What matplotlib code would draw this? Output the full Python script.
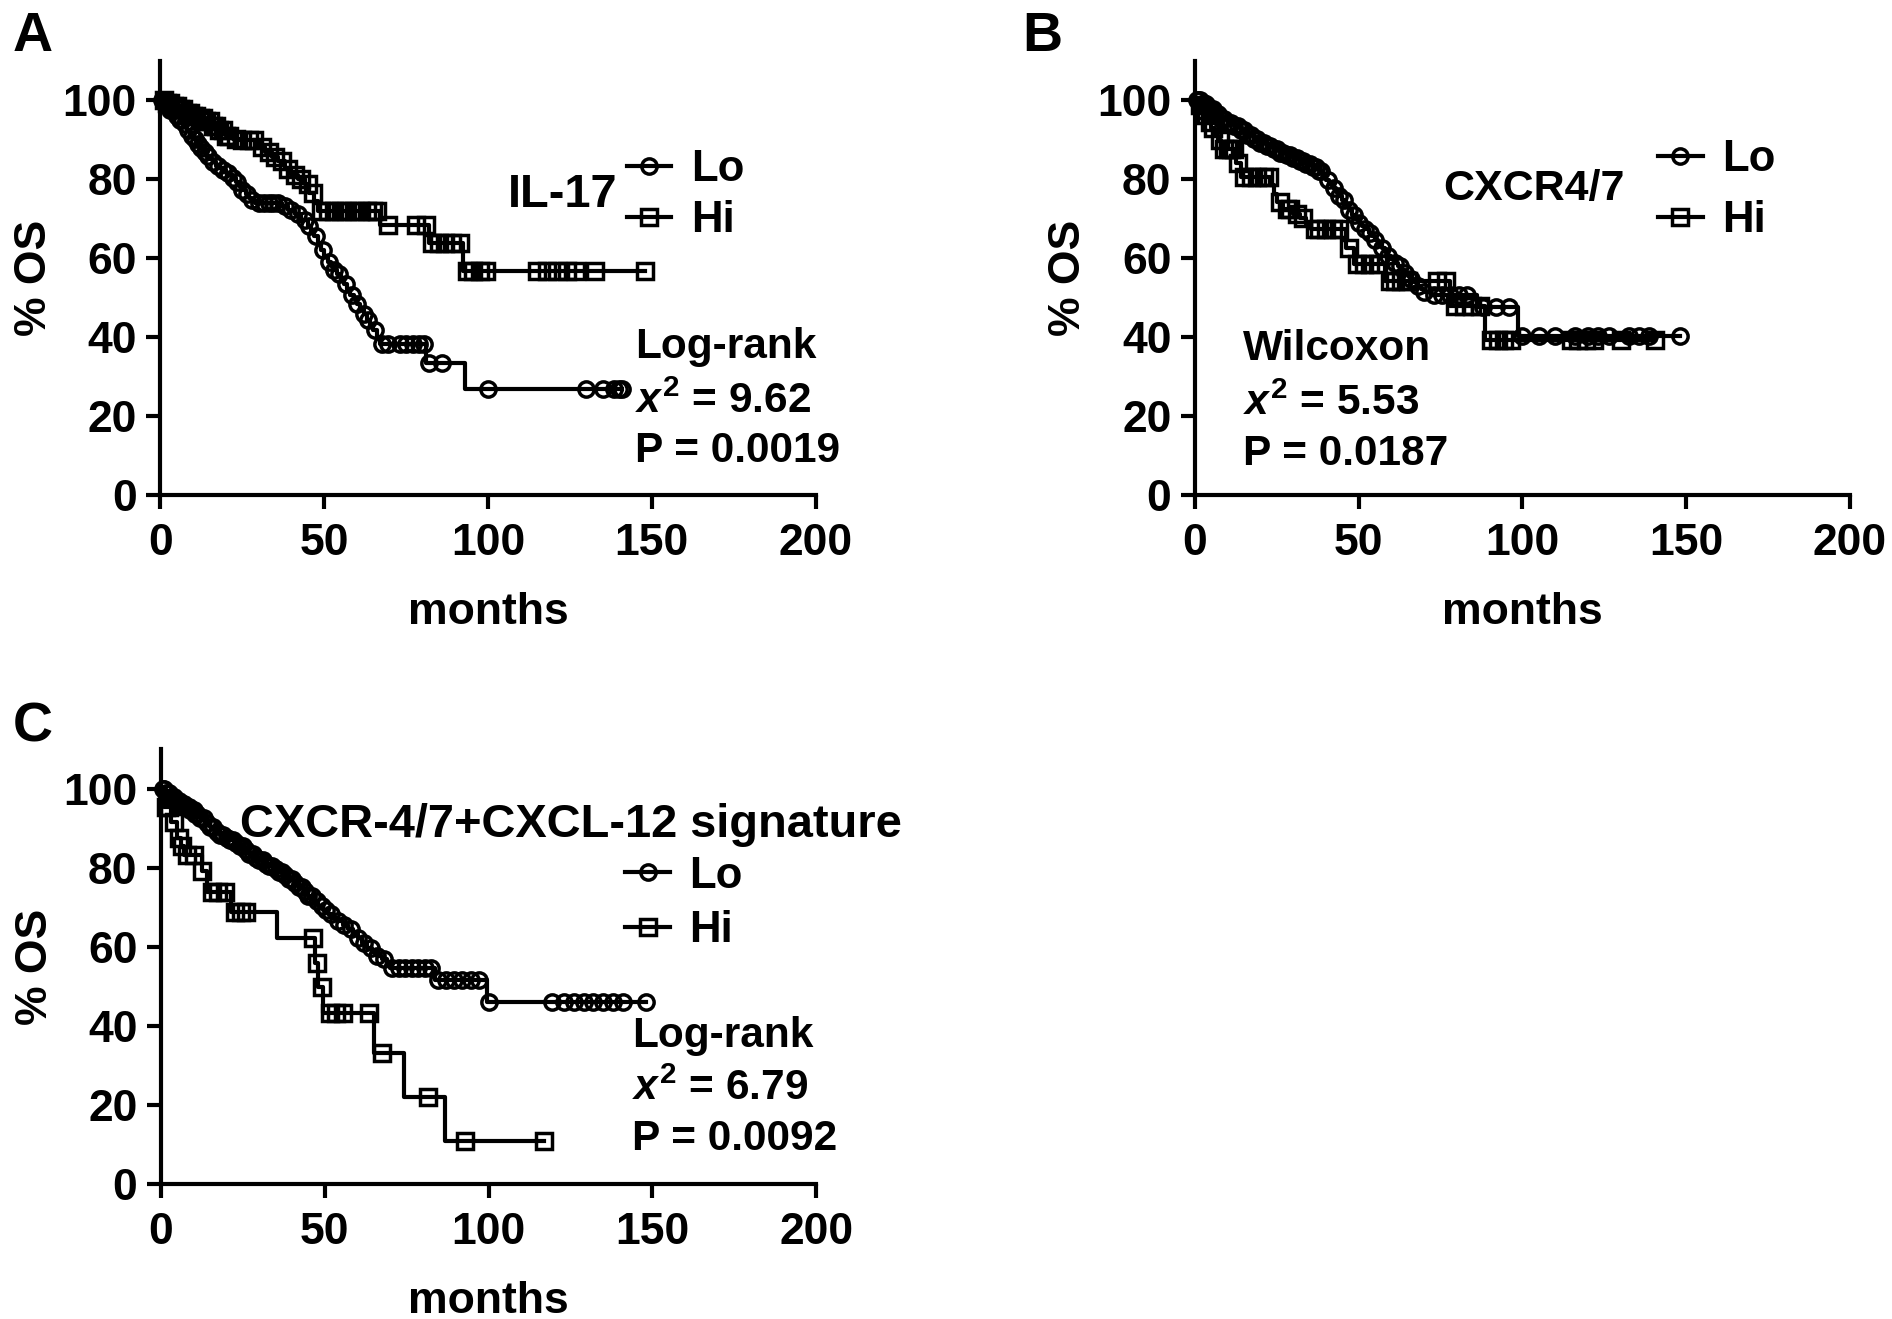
import numpy as np
import matplotlib
matplotlib.use('Agg')
import matplotlib.pyplot as plt
from matplotlib.lines import Line2D

plt.rcParams['font.family'] = ['Liberation Sans', 'DejaVu Sans']
plt.rcParams['font.weight'] = 'bold'
plt.rcParams['mathtext.fontset'] = 'custom'
plt.rcParams['mathtext.it'] = 'Liberation Sans:italic:bold'
plt.rcParams['mathtext.bf'] = 'Liberation Sans:bold'
plt.rcParams['mathtext.rm'] = 'Liberation Sans:bold'

# ---------------- data: (event times, survival %) and censor times ----------
# Panel A  IL-17
A_lo_t = [0, 1.5, 3, 4.5, 6, 7, 8, 9, 10, 11, 12, 13, 14, 15, 16, 17, 18, 19, 20, 21, 22, 23, 24, 25,
          26, 27, 28, 29, 37, 39, 41, 43, 45, 46, 47, 48, 49, 50, 51, 52, 53, 54, 55, 56, 57, 58, 59,
          60, 61, 62, 63, 64, 65, 66, 67, 81, 93]
A_lo_s = [100, 99, 97.5, 96, 95, 94, 92.5, 91, 90, 88.8, 87.8, 86.8, 85.8, 85, 84.2, 83.4, 82.8, 82.2,
          81.6, 81, 80.2, 79.2, 78.2, 77.2, 76.2, 75.2, 74.6, 74, 73.2, 72.2, 71, 69.6, 68, 67, 65.5,
          63.5, 62, 60.5, 59, 58, 57, 56, 54.5, 53.5, 52.2, 50.6, 49.5, 48.2, 47.2, 45.8, 44.3, 43,
          41.7, 40, 38.3, 33.3, 26.7]
A_lo_c = [0.5, 1, 1.5, 2, 2.5, 3, 3.5, 4, 5, 6, 6.5, 7.5, 8.5, 9.5, 10.5, 11.5, 12.5, 13.5, 14.5, 16,
          17.5, 19, 20.5, 22, 23.5, 25, 26.5, 28, 30, 31.5, 33, 34.5, 36, 38, 40, 42, 44, 45.5, 47.5,
          49.5, 51.5, 53, 54.5, 56.5, 58.5, 60, 62, 63.5, 65.5, 67.5, 69.5, 73, 75, 77, 79, 80.5, 82,
          86, 100, 130, 135, 138.5, 140, 141]
A_hi_t = [0, 2, 4, 6, 8, 10, 12, 14, 16, 18, 20, 22, 24, 29, 30.5, 32, 34, 36, 38, 40, 42, 44, 45.5,
          47, 48, 67, 82, 92.5]
A_hi_s = [100, 99.2, 98.4, 97.6, 96.8, 96, 95.4, 94.6, 93.5, 92.3, 91, 90.2, 89.9, 89.4, 88.2, 86.8,
          85.6, 84.5, 82.5, 81, 80, 78.8, 76.5, 74.3, 71.9, 68.3, 63.7, 56.7]
A_hi_c = [1, 2, 3, 4, 5, 6, 7, 8, 9, 10, 11, 12, 13, 14, 15, 16, 17, 18, 19, 20, 21, 23, 25, 27, 28.5,
          31, 33, 35, 37, 39, 41, 43, 45, 46.5, 49, 51, 53, 55, 57, 59, 61, 63, 65, 66, 69.5, 78, 81,
          83, 85, 87, 89, 91.5, 93.5, 95.5, 97.5, 99.5, 115, 118, 121, 124, 127, 132.5, 148]

# Panel B  CXCR4/7
B_lo_t = [0, 2, 4, 6, 8, 10, 12, 14, 16, 18, 20, 22, 24, 26, 28, 30, 32, 34, 36, 38, 39, 40, 41, 42,
          43, 44, 45, 46, 47, 48, 49, 50, 51, 52, 53, 54, 55, 56, 57, 58, 59, 60, 61, 62, 63, 64, 65,
          66, 67, 68, 69, 70, 72, 86, 98.5]
B_lo_s = [100, 99, 97.8, 96.5, 95.3, 94.3, 93.4, 92.4, 91.2, 90, 89.2, 88.3, 87.5, 86.7, 86, 85.3,
          84.6, 83.9, 83.1, 82, 81, 79.7, 78.8, 77.8, 76.8, 75.8, 74.6, 73.3, 72.1, 70.9, 69.8, 68.9,
          68, 67.2, 66.4, 65.6, 64.6, 63.5, 62.4, 61.4, 60.5, 59.6, 58.8, 57.9, 57, 56.2, 55.4, 54.6,
          53.8, 53, 52.2, 51.4, 50.6, 47.5, 40.3]
B_lo_c = [0.5, 1, 1.5, 2, 2.5, 3, 3.5, 4, 4.5, 5, 5.5, 6, 7, 8, 9, 10, 11, 12, 13, 14, 15, 16, 17, 18,
          19, 20, 21, 22, 23, 24, 25, 26, 27, 28, 29, 30, 31, 32, 33, 34, 35, 36, 37, 38, 38.5, 40.5,
          42.5, 44, 45.5, 47, 48.5, 50, 52, 53.5, 55, 57, 59, 61, 62.5, 64, 66, 68, 70, 73, 75.5, 78,
          80.5, 83, 88, 92, 96, 100, 105, 110, 116, 120, 123, 126.5, 132.5, 135.5, 138.5, 148]
B_hi_t = [0, 1, 2, 3, 4, 5, 6, 7, 8, 12.5, 14, 23, 24, 25, 27, 30, 32, 34, 35.5, 46, 48.5, 58, 78, 88.5]
B_hi_s = [100, 98.7, 97.5, 96.2, 94.5, 92.8, 91.2, 89.9, 87.5, 84, 80.6, 78.5, 76.3, 74.2, 72.3, 71,
          70, 68.7, 67.2, 62.4, 58.4, 54.2, 47.8, 39.3]
B_hi_c = [1.5, 2.5, 3.5, 4.5, 5.5, 7.5, 9, 10, 11, 12, 13, 15, 17, 19, 21, 22.5, 26, 28, 29, 31, 33,
          36.5, 38, 40, 42, 44, 47, 49.5, 51.5, 53.5, 56, 59.5, 61, 63, 65, 74, 76.5, 79.5, 82, 84.5,
          87, 90.5, 92.5, 94.5, 96.5, 114.7, 117, 119.5, 121.8, 130, 140.5]

# Panel C  CXCR-4/7+CXCL-12 signature
C_lo_t = [0, 1.5, 3, 4.5, 6, 7.5, 9, 10.5, 12, 13.5, 15, 16.5, 18, 19.5, 21, 22.5, 24, 25.5, 27, 28.5,
          30, 31.5, 33, 34.5, 36, 37.5, 39, 40.5, 42, 43.5, 45, 46.5, 48, 49.5, 51, 52.5, 54, 55.5,
          57, 58.5, 60, 61.5, 63, 64.5, 66, 67.5, 69, 70, 83.5, 99.5]
C_lo_s = [100, 99, 98, 97, 96.3, 95.5, 94.6, 93.6, 92.6, 91.4, 90.3, 89.2, 88.3, 87.6, 87, 86.3, 85.5,
          84.4, 83.4, 82.6, 81.9, 81.1, 80.4, 79.7, 78.9, 78.1, 77.1, 76.2, 75.2, 74.1, 72.9, 71.7,
          70.4, 69.3, 68.3, 67.4, 66.5, 65.4, 64.4, 63.3, 62.2, 61, 59.8, 58.8, 57.7, 56.8, 55.8,
          54.5, 51.6, 46.1]
C_lo_c = [0.5, 1, 1.5, 2, 2.5, 3, 3.5, 4, 4.5, 5, 5.5, 6, 6.5, 7, 7.5, 8, 8.5, 9, 9.5, 10, 10.5, 11,
          12, 13, 14, 15, 16, 17, 18, 19, 20, 21, 22, 23, 24, 25, 26, 27, 28, 29, 30, 31, 32, 33, 34,
          35, 36, 37, 38, 39, 40, 41, 42, 43, 44, 45, 46, 47.5, 49, 50.5, 52, 54, 56, 58, 60, 62, 64,
          66, 68, 70.5, 72.5, 74.5, 76.5, 78.5, 80.5, 82.5, 84.5, 87, 89.5, 92, 94.5, 97, 100,
          119.5, 123, 126, 129, 132, 135, 138, 141, 148]
C_hi_t = [0, 1, 3, 5, 6, 7, 12.5, 14, 21.5, 35.5, 47, 48, 49.5, 65, 74.3, 86.6]
C_hi_s = [100, 95.5, 91.7, 87.5, 85.5, 83.3, 79.3, 74, 68.7, 62.2, 56, 49.8, 43.3, 33, 22, 10.8]
C_hi_c = [1.5, 2.5, 4, 5.5, 6.5, 8, 10, 12.5, 15.5, 17.5, 19.5, 22.5, 24.5, 26, 46.5, 47.5, 49, 51.5,
          53.5, 55.5, 63.5, 67.5, 81.5, 92.7, 117]

x_ticks = [0, 50, 100, 150, 200]
y_ticks = [0, 20, 40, 60, 80, 100]
x_label = 'months'
y_label = '% OS'

LW = 3.0
MS = 11
MEW = 2.5
FS_TICK = 32
FS_TITLE = 33.8
FS_ANN = 30.5
FS_LEG = 31.5


def km(ax, t, s, cens, marker):
    t = np.asarray(t, float)
    s = np.asarray(s, float)
    c = np.asarray(cens, float)
    tt = np.append(t, c.max())
    ss = np.append(s, s[-1])
    ax.step(tt, ss, where='post', color='black', lw=LW, clip_on=False, zorder=3)
    idx = np.searchsorted(t, c, side='right') - 1
    ax.plot(c, s[idx], ls='none', marker=marker, mfc='none', mec='black',
            ms=MS, mew=MEW, clip_on=False, zorder=4)


def style(ax):
    ax.set_xlim(0, 200)
    ax.set_ylim(0, 110)
    ax.set_xticks(x_ticks)
    ax.set_yticks(y_ticks)
    for sp in ['top', 'right']:
        ax.spines[sp].set_visible(False)
    for sp in ['left', 'bottom']:
        ax.spines[sp].set_linewidth(3)
    ax.tick_params(direction='out', length=10, width=3, labelsize=FS_TICK)
    ax.tick_params(axis='x', pad=10.5)
    ax.tick_params(axis='y', pad=7)
    for lab in ax.get_xticklabels() + ax.get_yticklabels():
        lab.set_fontweight('bold')
    ax.set_xlabel(x_label, fontsize=FS_TICK, fontweight='bold', labelpad=20)
    ax.set_ylabel(y_label, fontsize=FS_TICK, fontweight='bold', labelpad=5.5)


def legend(ax, x, ytop, spacing):
    h = [Line2D([], [], color='k', lw=LW, marker='o', mfc='none', mec='k', ms=MS, mew=MEW),
         Line2D([], [], color='k', lw=LW, marker='s', mfc='none', mec='k', ms=MS, mew=MEW)]
    ax.legend(h, ['Lo', 'Hi'], loc='upper left', bbox_to_anchor=(x, ytop),
              bbox_transform=ax.transData, frameon=False,
              handlelength=1.02, handletextpad=0.45, labelspacing=spacing,
              borderpad=0, borderaxespad=0, numpoints=1,
              prop={'weight': 'bold', 'size': FS_LEG})


def stats(ax, x, ys, test, chi, p):
    ax.text(x, ys[0], test, fontsize=FS_ANN, fontweight='bold', va='baseline', ha='left')
    ax.text(x, ys[1], r'$x^{2}$ = ' + chi, fontsize=FS_ANN, fontweight='bold', va='baseline', ha='left')
    ax.text(x, ys[2], 'P = ' + p, fontsize=FS_ANN, fontweight='bold', va='baseline', ha='left')


fig = plt.figure(figsize=(18.92, 13.19), dpi=100)
axA = fig.add_axes([0.0848, 0.6249, 0.3463, 0.3292])
axB = fig.add_axes([0.6316, 0.6249, 0.3462, 0.3292])
axC = fig.add_axes([0.0851, 0.1027, 0.3463, 0.3291])

# Panel A
km(axA, A_lo_t, A_lo_s, A_lo_c, 'o')
km(axA, A_hi_t, A_hi_s, A_hi_c, 's')
style(axA)
axA.text(106.0, 72.9, 'IL-17', fontsize=FS_TITLE, fontweight='bold', va='baseline')
legend(axA, 142.3, 87.6, 0.23)
stats(axA, 144.8, [34.6, 20.7, 8.4], 'Log-rank', '9.62', '0.0019')

# Panel B
km(axB, B_lo_t, B_lo_s, B_lo_c, 'o')
km(axB, B_hi_t, B_hi_s, B_hi_c, 's')
style(axB)
axB.text(75.7, 74.7, 'CXCR4/7', fontsize=31, fontweight='bold', va='baseline')
legend(axB, 141.4, 90.0, 0.45)
stats(axB, 14.7, [34.1, 20.2, 7.5], 'Wilcoxon', '5.53', '0.0187')

# Panel C
km(axC, C_lo_t, C_lo_s, C_lo_c, 'o')
km(axC, C_hi_t, C_hi_s, C_hi_c, 's')
style(axC)
axC.text(24.2, 87.9, 'CXCR-4/7+CXCL-12 signature', fontsize=FS_TITLE, fontweight='bold', va='baseline')
legend(axC, 141.7, 83.1, 0.31)
stats(axC, 143.9, [34.7, 21.2, 8.5], 'Log-rank', '6.79', '0.0092')

# panel letters
fig.text(13 / 1892, 1 - 50.7 / 1319, 'A', fontsize=40, fontweight='bold', va='baseline')
fig.text(1022 / 1892, 1 - 50.7 / 1319, 'B', fontsize=40, fontweight='bold', va='baseline')
fig.text(13 / 1892, 1 - 741 / 1319, 'C', fontsize=40, fontweight='bold', va='baseline')

fig.savefig('out.png', dpi=100)
